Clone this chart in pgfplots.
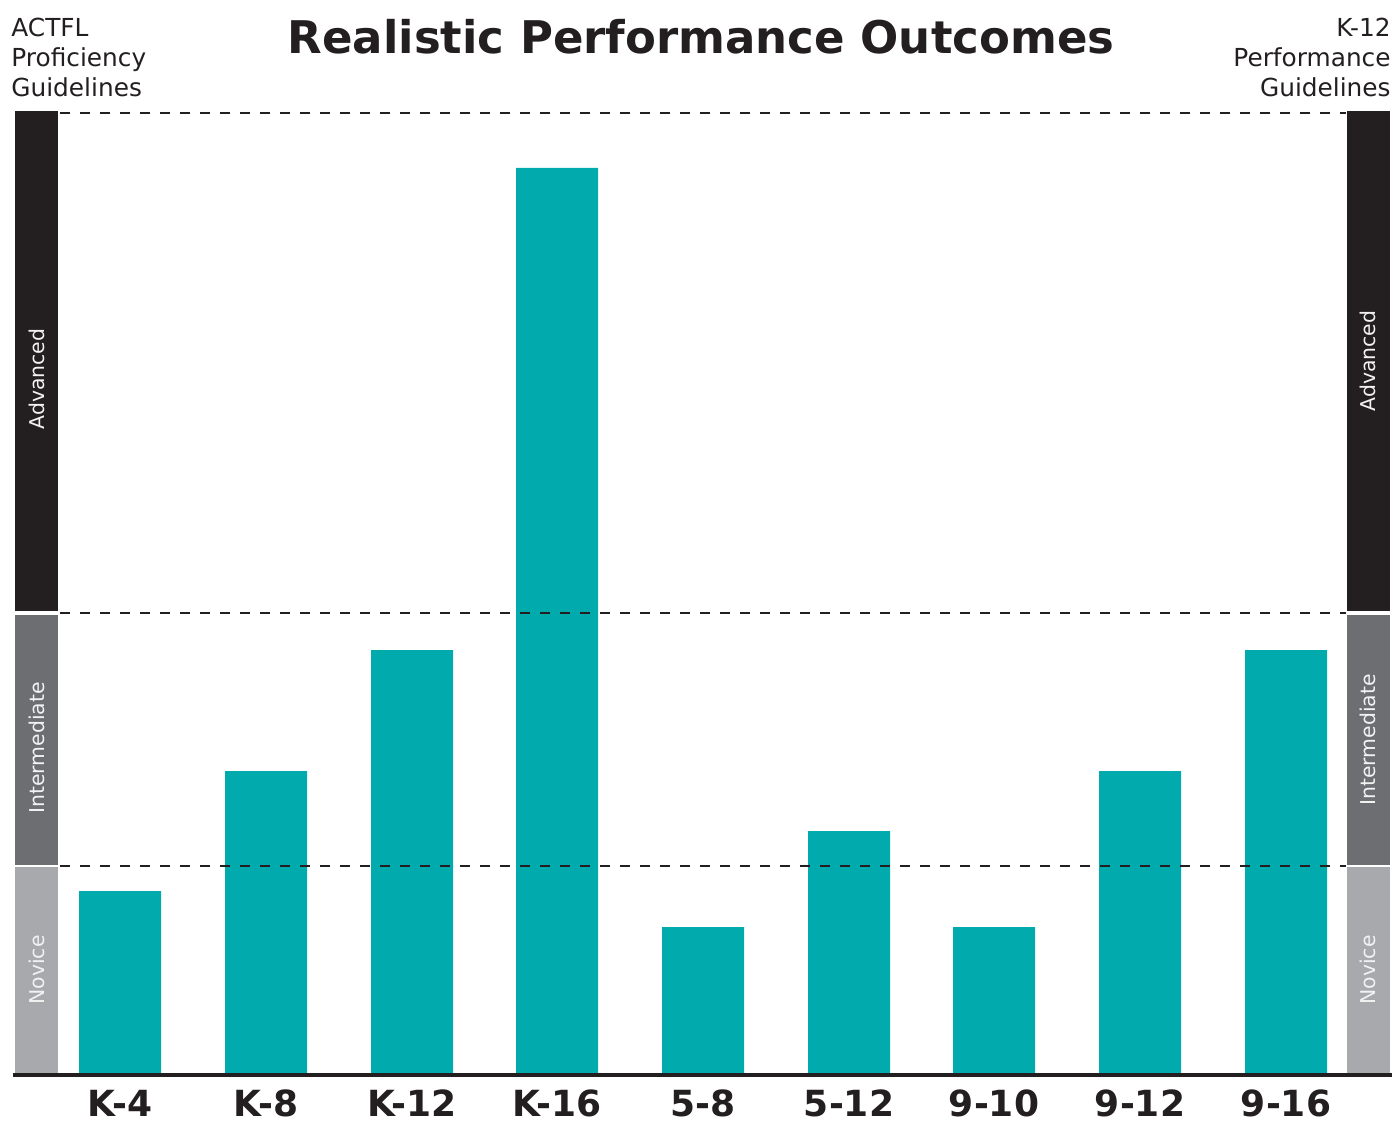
\documentclass[border=0pt]{standalone}
\usepackage{pgfplots}
\pgfplotsset{compat=1.18}
\usepackage{fontspec}
\setmainfont{DejaVu Sans}
\definecolor{barteal}{HTML}{00AAAD}
\definecolor{advc}{HTML}{231F20}
\definecolor{intc}{HTML}{6D6E71}
\definecolor{novc}{HTML}{A7A9AC}
\begin{document}
\begin{tikzpicture}
\useasboundingbox (0,-24pt) rectangle (697.5pt,536.5pt);
\begin{axis}[
  at={(0,0)}, anchor=south west,
  scale only axis, width=697.5pt, height=536.5pt,
  xmin=0, xmax=1395, ymin=0, ymax=1073,
  clip=false,
  axis line style={draw=none}, tick style={draw=none},
  major tick length=0pt,
  ytick=\empty,
  xtick={120,266,412,557,703,849,994,1140,1286},
  xticklabels={K-4,K-8,K-12,K-16,5-8,5-12,9-10,9-12,9-16},
  xticklabel style={font=\bfseries\fontsize{18}{20}\selectfont, text=advc, anchor=base, yshift=-21.5pt, inner sep=0pt},
]
% bands left
\fill[advc] (axis cs:15,462) rectangle (axis cs:58,962);
\fill[intc] (axis cs:15,208) rectangle (axis cs:58,458);
\fill[novc] (axis cs:15,0) rectangle (axis cs:58,206);
% bands right
\fill[advc] (axis cs:1347,462) rectangle (axis cs:1390,962);
\fill[intc] (axis cs:1347,208) rectangle (axis cs:1390,458);
\fill[novc] (axis cs:1347,0) rectangle (axis cs:1390,206);
% band labels
\node[rotate=90, text=white!95!black, font=\fontsize{10.2}{12}\selectfont] at (axis cs:37,694) {Advanced};
\node[rotate=90, text=white!95!black, font=\fontsize{10.2}{12}\selectfont] at (axis cs:37,325) {Intermediate};
\node[rotate=90, text=white!95!black, font=\fontsize{10.2}{12}\selectfont] at (axis cs:37,103) {Novice};
\node[rotate=90, text=white!95!black, font=\fontsize{10.2}{12}\selectfont] at (axis cs:1368,712) {Advanced};
\node[rotate=90, text=white!95!black, font=\fontsize{10.2}{12}\selectfont] at (axis cs:1368,333) {Intermediate};
\node[rotate=90, text=white!95!black, font=\fontsize{10.2}{12}\selectfont] at (axis cs:1368,103) {Novice};
% bars
\addplot[ybar, bar width=82, fill=barteal, draw=none] coordinates {
 (120,182) (266,302) (412,423) (557,905) (703,146) (849,242) (994,146) (1140,302) (1286,423)};
% dashed level lines
\addplot[advc, line width=1.3pt, dash pattern=on 5.2pt off 4.8pt] coordinates {(60,960) (1346,960)};
\addplot[advc, line width=1.3pt, dash pattern=on 5.2pt off 4.8pt] coordinates {(60,460) (1346,460)};
\addplot[advc, line width=1.3pt, dash pattern=on 5.2pt off 4.8pt] coordinates {(60,207) (1346,207)};
% baseline
\draw[advc, line width=2pt] (axis cs:13,-1.5) -- (axis cs:1392,-1.5);
% title
\node[anchor=base, font=\bfseries\fontsize{22.5}{27}\selectfont, text=advc] at (axis cs:701,1019) {Realistic Performance Outcomes};
% corner texts
\node[anchor=base west, inner sep=0pt, font=\fontsize{12.4}{15}\selectfont, text=advc] at (axis cs:11,1036) {ACTFL};
\node[anchor=base west, inner sep=0pt, font=\fontsize{12.4}{15}\selectfont, text=advc] at (axis cs:11,1006) {Proficiency};
\node[anchor=base west, inner sep=0pt, font=\fontsize{12.4}{15}\selectfont, text=advc] at (axis cs:11,976) {Guidelines};
\node[anchor=base east, inner sep=0pt, font=\fontsize{12.4}{15}\selectfont, text=advc] at (axis cs:1391,1036) {K-12};
\node[anchor=base east, inner sep=0pt, font=\fontsize{12.4}{15}\selectfont, text=advc] at (axis cs:1391,1006) {Performance};
\node[anchor=base east, inner sep=0pt, font=\fontsize{12.4}{15}\selectfont, text=advc] at (axis cs:1391,976) {Guidelines};
\end{axis}
\end{tikzpicture}
\end{document}
